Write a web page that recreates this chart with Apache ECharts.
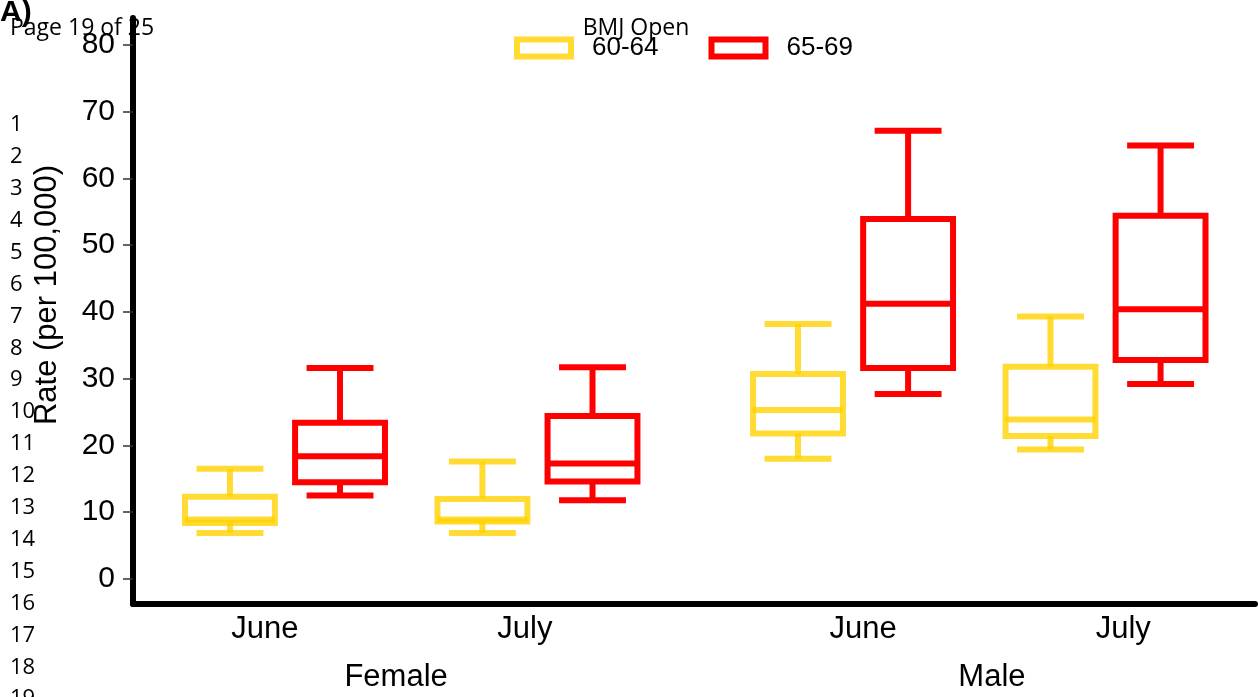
<!DOCTYPE html>
<html>
<head>
<meta charset="utf-8">
<script src="https://cdn.jsdelivr.net/npm/echarts@6/dist/echarts.min.js"></script>
<style>
html,body{margin:0;padding:0;background:#fff;}
#chart{width:1258px;height:697px;}
</style>
</head>
<body>
<div id="chart"></div>
<script>
// ---- data ----
const seriesNames = ['60-64', '65-69'];
const monthLabels = ['June', 'July', 'June', 'July'];
const groupLabels = ['Female', 'Male'];
// x positions of the four box pairs (Female June, Female July, Male June, Male July)
const boxPositions = [1, 2, 3.25, 4.25];
const monthLabelPositions = [0.92, 1.95, 3.29, 4.32];
const groupLabelPositions = [1.44, 3.80];
const yTicks = [0, 10, 20, 30, 40, 50, 60, 70, 80];
// [min, Q1, median, Q3, max]
const stats6064 = [
  [6.9, 8.4, 8.9, 12.3, 16.5],
  [6.9, 8.6, 8.9, 12.0, 17.6],
  [18.0, 21.8, 25.3, 30.7, 38.2],
  [19.4, 21.4, 23.9, 31.8, 39.3]
];
const stats6569 = [
  [12.5, 14.5, 18.4, 23.4, 31.6],
  [11.8, 14.6, 17.3, 24.4, 31.7],
  [27.7, 31.6, 41.2, 53.9, 67.1],
  [29.2, 32.8, 40.4, 54.4, 64.9]
];
const lineNumbers = ['1','2','3','4','5','6','7','8','9','10','11','12','13','14','15','16','17','18','19'];

// ---- styles ----
const YELLOW = 'rgba(255,210,0,0.8)';
const RED = '#ff0000';
const LW = 6;

function makeRender(offset, color) {
  return function (params, api) {
    const x = api.value(0) + offset;
    const lo = api.coord([x, api.value(1)]);
    const q1 = api.coord([x, api.value(2)]);
    const md = api.coord([x, api.value(3)]);
    const q3 = api.coord([x, api.value(4)]);
    const hi = api.coord([x, api.value(5)]);
    const unit = api.size([1, 0])[0];
    const bw = unit * 0.356;
    const cw = unit * 0.265;
    const cx = lo[0];
    const st = { stroke: color, fill: null, lineWidth: LW };
    return {
      type: 'group',
      children: [
        { type: 'line', shape: { x1: cx, y1: q3[1], x2: cx, y2: hi[1] }, style: st },
        { type: 'line', shape: { x1: cx - cw / 2, y1: hi[1], x2: cx + cw / 2, y2: hi[1] }, style: st },
        { type: 'line', shape: { x1: cx, y1: q1[1], x2: cx, y2: lo[1] }, style: st },
        { type: 'line', shape: { x1: cx - cw / 2, y1: lo[1], x2: cx + cw / 2, y2: lo[1] }, style: st },
        { type: 'rect', shape: { x: cx - bw / 2, y: q3[1], width: bw, height: q1[1] - q3[1] }, style: st },
        { type: 'line', shape: { x1: cx - bw / 2, y1: md[1], x2: cx + bw / 2, y2: md[1] }, style: st }
      ]
    };
  };
}

function labelAt(positions, labels) {
  return function (v) {
    for (let i = 0; i < positions.length; i++) {
      if (Math.abs(positions[i] - v) < 1e-6) return labels[i];
    }
    return '';
  };
}

const chart = echarts.init(document.getElementById('chart'), null, { renderer: 'canvas' });

const graphics = [
  { type: 'text', left: 0, top: -2, style: { text: 'A)', font: 'bold 30px "Liberation Sans", Arial, sans-serif', fill: '#000' } },
  { type: 'text', x: 10, y: 28, style: { text: 'Page 19 of 25', font: '23px "Open Sans", sans-serif', fill: '#000', verticalAlign: 'middle' } },
  { type: 'text', x: 636, y: 28, style: { text: 'BMJ Open', font: '23px "Open Sans", sans-serif', fill: '#000', align: 'center', verticalAlign: 'middle' } },
  { type: 'text', x: 47, y: 295, rotation: Math.PI / 2, style: { text: 'Rate (per 100,000)', font: '31px "Liberation Sans", Arial, sans-serif', fill: '#000', align: 'center', verticalAlign: 'middle' } }
];
lineNumbers.forEach(function (t, i) {
  graphics.push({ type: 'text', x: 10, y: 125 + i * 31.9, style: { text: t, font: '22px "Open Sans", sans-serif', fill: '#000', verticalAlign: 'middle' } });
});

chart.setOption({
  animation: false,
  backgroundColor: '#fff',
  grid: { left: 133, right: 3, top: 18, bottom: 93, containLabel: false },
  legend: {
    left: 509, top: 30,
    itemWidth: 54, itemHeight: 17, itemGap: 50,
    icon: 'rect',
    textStyle: { fontSize: 26, color: '#000', fontFamily: '"Liberation Sans", Arial, sans-serif', padding: [0, 0, 0, 16] },
    data: [
      { name: seriesNames[0], itemStyle: { color: '#fff', borderColor: YELLOW, borderWidth: LW } },
      { name: seriesNames[1], itemStyle: { color: '#fff', borderColor: RED, borderWidth: LW } }
    ]
  },
  xAxis: [
    {
      type: 'value', min: 0.398, max: 4.842,
      splitLine: { show: false },
      axisLine: { show: true, onZero: false, lineStyle: { color: '#000', width: 6 } },
      axisTick: { show: false },
      axisLabel: {
        customValues: monthLabelPositions,
        formatter: labelAt(monthLabelPositions, monthLabels),
        fontSize: 31, color: '#000', fontFamily: '"Liberation Sans", Arial, sans-serif', margin: 10,
        showMinLabel: true, showMaxLabel: true
      }
    },
    {
      type: 'value', min: 0.398, max: 4.842, position: 'bottom', offset: 48,
      splitLine: { show: false },
      axisLine: { show: false },
      axisTick: { show: false },
      axisLabel: {
        customValues: groupLabelPositions,
        formatter: labelAt(groupLabelPositions, groupLabels),
        fontSize: 31, color: '#000', fontFamily: '"Liberation Sans", Arial, sans-serif', margin: 10
      }
    }
  ],
  yAxis: {
    type: 'value', min: -3.74, max: 84,
    splitLine: { show: false },
    axisLine: { show: true, lineStyle: { color: '#000', width: 6 } },
    axisTick: { show: true, customValues: yTicks, length: 10, lineStyle: { color: '#333', width: 1.5 } },
    axisLabel: {
      customValues: yTicks,
      fontSize: 30, color: '#000', fontFamily: '"Liberation Sans", Arial, sans-serif', margin: 18
    }
  },
  graphic: graphics,
  series: [
    {
      name: seriesNames[0], type: 'custom', xAxisIndex: 0,
      itemStyle: { color: YELLOW },
      renderItem: makeRender(-0.218, YELLOW),
      encode: { x: 0, y: [1, 2, 3, 4, 5] },
      data: boxPositions.map(function (p, i) { return [p].concat(stats6064[i]); })
    },
    {
      name: seriesNames[1], type: 'custom', xAxisIndex: 0,
      itemStyle: { color: RED },
      renderItem: makeRender(0.218, RED),
      encode: { x: 0, y: [1, 2, 3, 4, 5] },
      data: boxPositions.map(function (p, i) { return [p].concat(stats6569[i]); })
    }
  ]
});
</script>
</body>
</html>
